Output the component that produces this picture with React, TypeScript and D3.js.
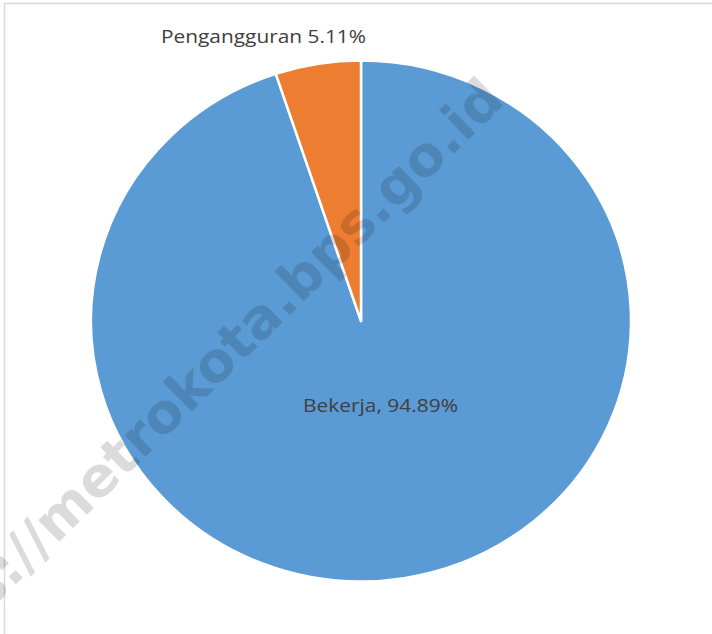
import React from "react";
import * as d3 from "d3";

const categories = ["Bekerja", "Pengangguran"];
const values = [94.89, 5.11];
const colors = ["#5B9BD5", "#ED7D31"];
const labels = ["Bekerja, 94.89%", "Pengangguran 5.11%"];
const watermark = "https://metrokota.bps.go.id";

export default function App() {
  const W = 712, H = 634;
  const cx = 361, cy = 321, ry = 260.5, rx = 270;
  const data = categories.map((c, i) => ({ c, v: values[i], i }));
  const pie = d3.pie<any>().sort(null).value((d) => d.v);
  const arcs = pie(data);
  const arc = d3.arc<any>().innerRadius(0).outerRadius(ry);
  return (
    <svg width={W} height={H} style={{ position: "absolute", left: 0, top: 0, background: "#fff" }}>
      <line x1={4} x2={W} y1={3.5} y2={3.5} stroke="#d9d9d9" strokeWidth={1.5} />
      <line x1={4.5} x2={4.5} y1={3} y2={H} stroke="#d9d9d9" strokeWidth={1.5} />
      <g transform={`translate(${cx},${cy}) scale(${rx / ry},1)`}>
        {arcs.map((a, i) => (
          <path key={i} d={arc(a) as string} fill={colors[i]} stroke="#fff" strokeWidth={2.5} vectorEffect="non-scaling-stroke" strokeLinejoin="round" />
        ))}
      </g>
      <text x={161} y={42.5} fill="#404040" fontFamily="Open Sans, sans-serif" fontSize={18} textLength={205} lengthAdjust="spacingAndGlyphs">
        {labels[1]}
      </text>
      <text x={303} y={412} fill="#404040" fontFamily="Open Sans, sans-serif" fontSize={18} textLength={155} lengthAdjust="spacingAndGlyphs">
        {labels[0]}
      </text>
      <text
        x={0}
        y={0}
        transform="translate(190,392) rotate(-44.5)"
        textAnchor="middle"
        dominantBaseline="middle"
        fontFamily="DejaVu Sans, sans-serif"
        fontWeight="bold"
        fontSize={55}
        fill="#000"
        fillOpacity={0.14}
      >
        {watermark}
      </text>
    </svg>
  );
}
